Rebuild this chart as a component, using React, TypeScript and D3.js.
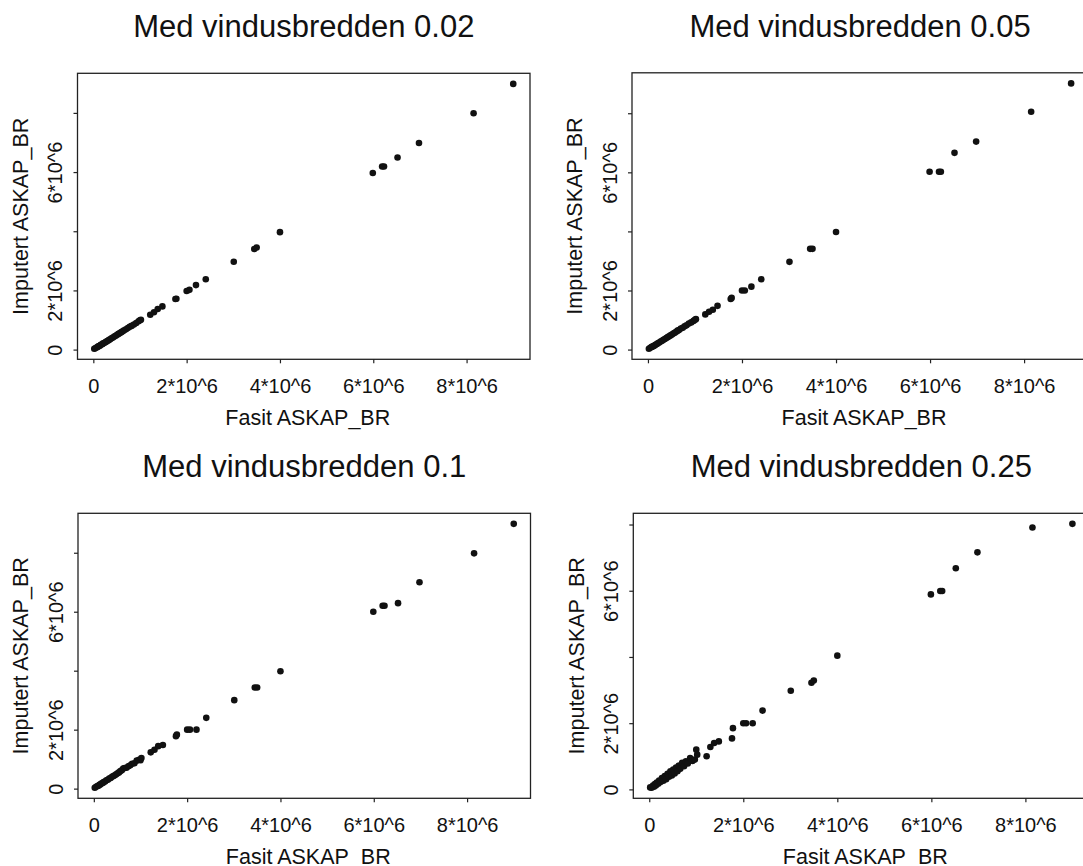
import React, { useEffect, useRef } from "react";
import * as d3 from "d3";

// all values in millions (10^6)
const fasitValues = [
  0.02, 0.05, 0.08, 0.10, 0.12, 0.14, 0.16, 0.19, 0.21, 0.24, 0.27, 0.30, 0.33,
  0.36, 0.39, 0.42, 0.45, 0.48, 0.51, 0.54, 0.57, 0.60, 0.63, 0.66, 0.70, 0.74,
  0.78, 0.82, 0.87, 0.92, 0.97, 1.00, 1.02,
  1.22, 1.30, 1.38, 1.48, 1.76, 1.78, 2.00, 2.06, 2.20, 2.41, 3.01, 3.45, 3.50,
  4.00, 5.99, 6.19, 6.23, 6.52, 6.98, 8.15, 9.00,
];

const imputed002 = [
  0.03, 0.05, 0.08, 0.10, 0.12, 0.13, 0.16, 0.18, 0.21, 0.23, 0.26, 0.29, 0.32,
  0.35, 0.38, 0.41, 0.44, 0.47, 0.50, 0.53, 0.56, 0.59, 0.62, 0.65, 0.69, 0.73,
  0.77, 0.80, 0.85, 0.90, 0.96, 0.99, 1.01,
  1.18, 1.26, 1.37, 1.46, 1.71, 1.72, 1.98, 2.02, 2.18, 2.38, 2.97, 3.40, 3.45,
  3.97, 5.97, 6.19, 6.19, 6.49, 6.98, 7.99, 8.98,
];

const imputed005 = [
  0.03, 0.06, 0.09, 0.10, 0.12, 0.14, 0.16, 0.19, 0.21, 0.24, 0.27, 0.30, 0.33,
  0.36, 0.39, 0.42, 0.45, 0.48, 0.51, 0.54, 0.57, 0.60, 0.64, 0.66, 0.71, 0.74,
  0.79, 0.82, 0.88, 0.92, 0.97, 1.01, 1.03,
  1.19, 1.28, 1.35, 1.48, 1.71, 1.75, 2.00, 2.00, 2.13, 2.38, 2.97, 3.41, 3.41,
  3.98, 6.02, 6.02, 6.02, 6.66, 7.04, 8.05, 9.01,
];

const imputed01 = [
  0.03, 0.06, 0.09, 0.10, 0.13, 0.14, 0.17, 0.19, 0.22, 0.24, 0.28, 0.30, 0.34,
  0.36, 0.40, 0.43, 0.45, 0.49, 0.52, 0.55, 0.60, 0.62, 0.68, 0.70, 0.71, 0.76,
  0.79, 0.84, 0.86, 0.95, 0.98, 0.96, 1.04,
  1.23, 1.32, 1.44, 1.48, 1.78, 1.83, 2.00, 2.00, 2.00, 2.40, 3.00, 3.43, 3.43,
  3.98, 6.00, 6.20, 6.20, 6.29, 7.00, 7.98, 8.98,
];

const imputed025 = [
  0.06, 0.05, 0.12, 0.08, 0.16, 0.12, 0.21, 0.17, 0.27, 0.22, 0.34, 0.26, 0.40,
  0.31, 0.47, 0.38, 0.55, 0.42, 0.60, 0.48, 0.66, 0.55, 0.72, 0.62, 0.80, 0.70,
  0.85, 0.78, 0.95, 0.86, 0.90, 1.20, 1.05,
  1.00, 1.28, 1.40, 1.45, 1.54, 1.85, 2.00, 2.00, 2.00, 2.38, 2.98, 3.22, 3.29,
  4.04, 5.89, 5.99, 5.99, 6.68, 7.16, 7.91, 8.02,
];

const panelTitles = [
  "Med vindusbredden 0.02",
  "Med vindusbredden 0.05",
  "Med vindusbredden 0.1",
  "Med vindusbredden 0.25",
];
const xTickValues = [0, 2, 4, 6, 8];
const yTickValues = [0, 2, 4, 6, 8];
const xAxisLabel = "Fasit ASKAP_BR";
const yAxisLabel = "Imputert ASKAP_BR";

const FONT = "'Liberation Sans', Arial, Helvetica, sans-serif";
const INK = "#111";

// plot regions of the 2x2 layout (right column runs past the page edge)
const panels = [
  { title: panelTitles[0], y: imputed002, left: 77.5, top: 73.3, width: 452.5, height: 286 },
  { title: panelTitles[1], y: imputed005, left: 632, top: 72.8, width: 456, height: 286.5 },
  { title: panelTitles[2], y: imputed01, left: 78, top: 513.3, width: 452.5, height: 285 },
  { title: panelTitles[3], y: imputed025, left: 633.3, top: 513.3, width: 456, height: 285 },
];

// R style axis range: data range extended by 4% on each side
const padRange = (vals: number[]) => {
  const [lo, hi] = d3.extent(vals) as [number, number];
  const d = (hi - lo) * 0.04;
  return [lo - d, hi + d];
};

const fmtTick = (v: number) => (v === 0 ? "0" : `${v}*10^6`);

const App = () => {
  const svgRef = useRef<SVGSVGElement>(null);

  useEffect(() => {
    const svg = d3.select(svgRef.current);
    svg.selectAll("*").remove();

    panels.forEach((p) => {
      const xScale = d3
        .scaleLinear()
        .domain(padRange(fasitValues))
        .range([p.left, p.left + p.width]);
      const yScale = d3
        .scaleLinear()
        .domain(padRange(p.y))
        .range([p.top + p.height, p.top]);

      const g = svg.append("g");
      const bottom = p.top + p.height;
      const cx = p.left + p.width / 2;
      const cy = p.top + p.height / 2;

      // title
      g.append("text")
        .attr("x", cx)
        .attr("y", p.top - 36)
        .attr("text-anchor", "middle")
        .style("font-family", FONT)
        .style("font-size", "31px")
        .style("fill", INK)
        .text(p.title);

      // points
      g.selectAll("circle")
        .data(fasitValues.map((x, i) => ({ x, y: p.y[i] })))
        .enter()
        .append("circle")
        .attr("cx", (d) => xScale(d.x))
        .attr("cy", (d) => yScale(d.y))
        .attr("r", 3.3)
        .attr("fill", INK);

      // box
      g.append("rect")
        .attr("x", p.left)
        .attr("y", p.top)
        .attr("width", p.width)
        .attr("height", p.height)
        .attr("fill", "none")
        .attr("stroke", "#222")
        .attr("stroke-width", 1.3);

      // x axis
      const xAxis = g
        .append("g")
        .attr("transform", `translate(0,${bottom})`)
        .call(d3.axisBottom(xScale).tickValues(xTickValues).tickSize(4).tickFormat((v) => fmtTick(+v)));
      xAxis.select(".domain").remove();
      xAxis.selectAll("line").attr("stroke", "#222").attr("stroke-width", 1.2);
      xAxis
        .selectAll("text")
        .attr("y", 34)
        .attr("dy", null)
        .style("font-family", FONT)
        .style("font-size", "20px")
        .style("fill", INK);

      // y axis, labels parallel to the axis
      const yAxis = g
        .append("g")
        .attr("transform", `translate(${p.left},0)`)
        .call(d3.axisLeft(yScale).tickValues(yTickValues).tickSize(4).tickFormat((v) => fmtTick(+v)));
      yAxis.select(".domain").remove();
      yAxis.selectAll("line").attr("stroke", "#222").attr("stroke-width", 1.2);
      const fs = 20;
      let lastEdge = Infinity;
      yAxis.selectAll<SVGTextElement, number>("text").each(function (v) {
        const t = d3.select(this);
        t.attr("x", null)
          .attr("dy", null)
          .attr("text-anchor", "middle")
          .attr("transform", "translate(-15.5,0) rotate(-90)")
          .style("font-family", FONT)
          .style("font-size", `${fs}px`)
          .style("fill", INK);
        // skip labels that would collide with the previous one (gap of one char)
        const half = (fmtTick(v).length * 0.53 * fs) / 2;
        const yPos = yScale(v);
        if (yPos + half > lastEdge - 0.55 * fs) {
          t.remove();
        } else {
          lastEdge = yPos - half;
        }
      });

      // axis titles
      g.append("text")
        .attr("x", cx + 4)
        .attr("y", bottom + 65.5)
        .attr("text-anchor", "middle")
        .style("font-family", FONT)
        .style("font-size", "21.5px")
        .style("fill", INK)
        .text(xAxisLabel);

      g.append("text")
        .attr("transform", `translate(${p.left - 49.6},${cy}) rotate(-90)`)
        .attr("text-anchor", "middle")
        .style("font-family", FONT)
        .style("font-size", "21.5px")
        .style("fill", INK)
        .text(yAxisLabel);
    });
  }, []);

  return (
    <div style={{ position: "absolute", left: 0, top: 0, width: 1083, height: 866, overflow: "hidden", background: "#fff" }}>
      <svg ref={svgRef} width={1083} height={866} style={{ display: "block" }}></svg>
    </div>
  );
};

export default App;
